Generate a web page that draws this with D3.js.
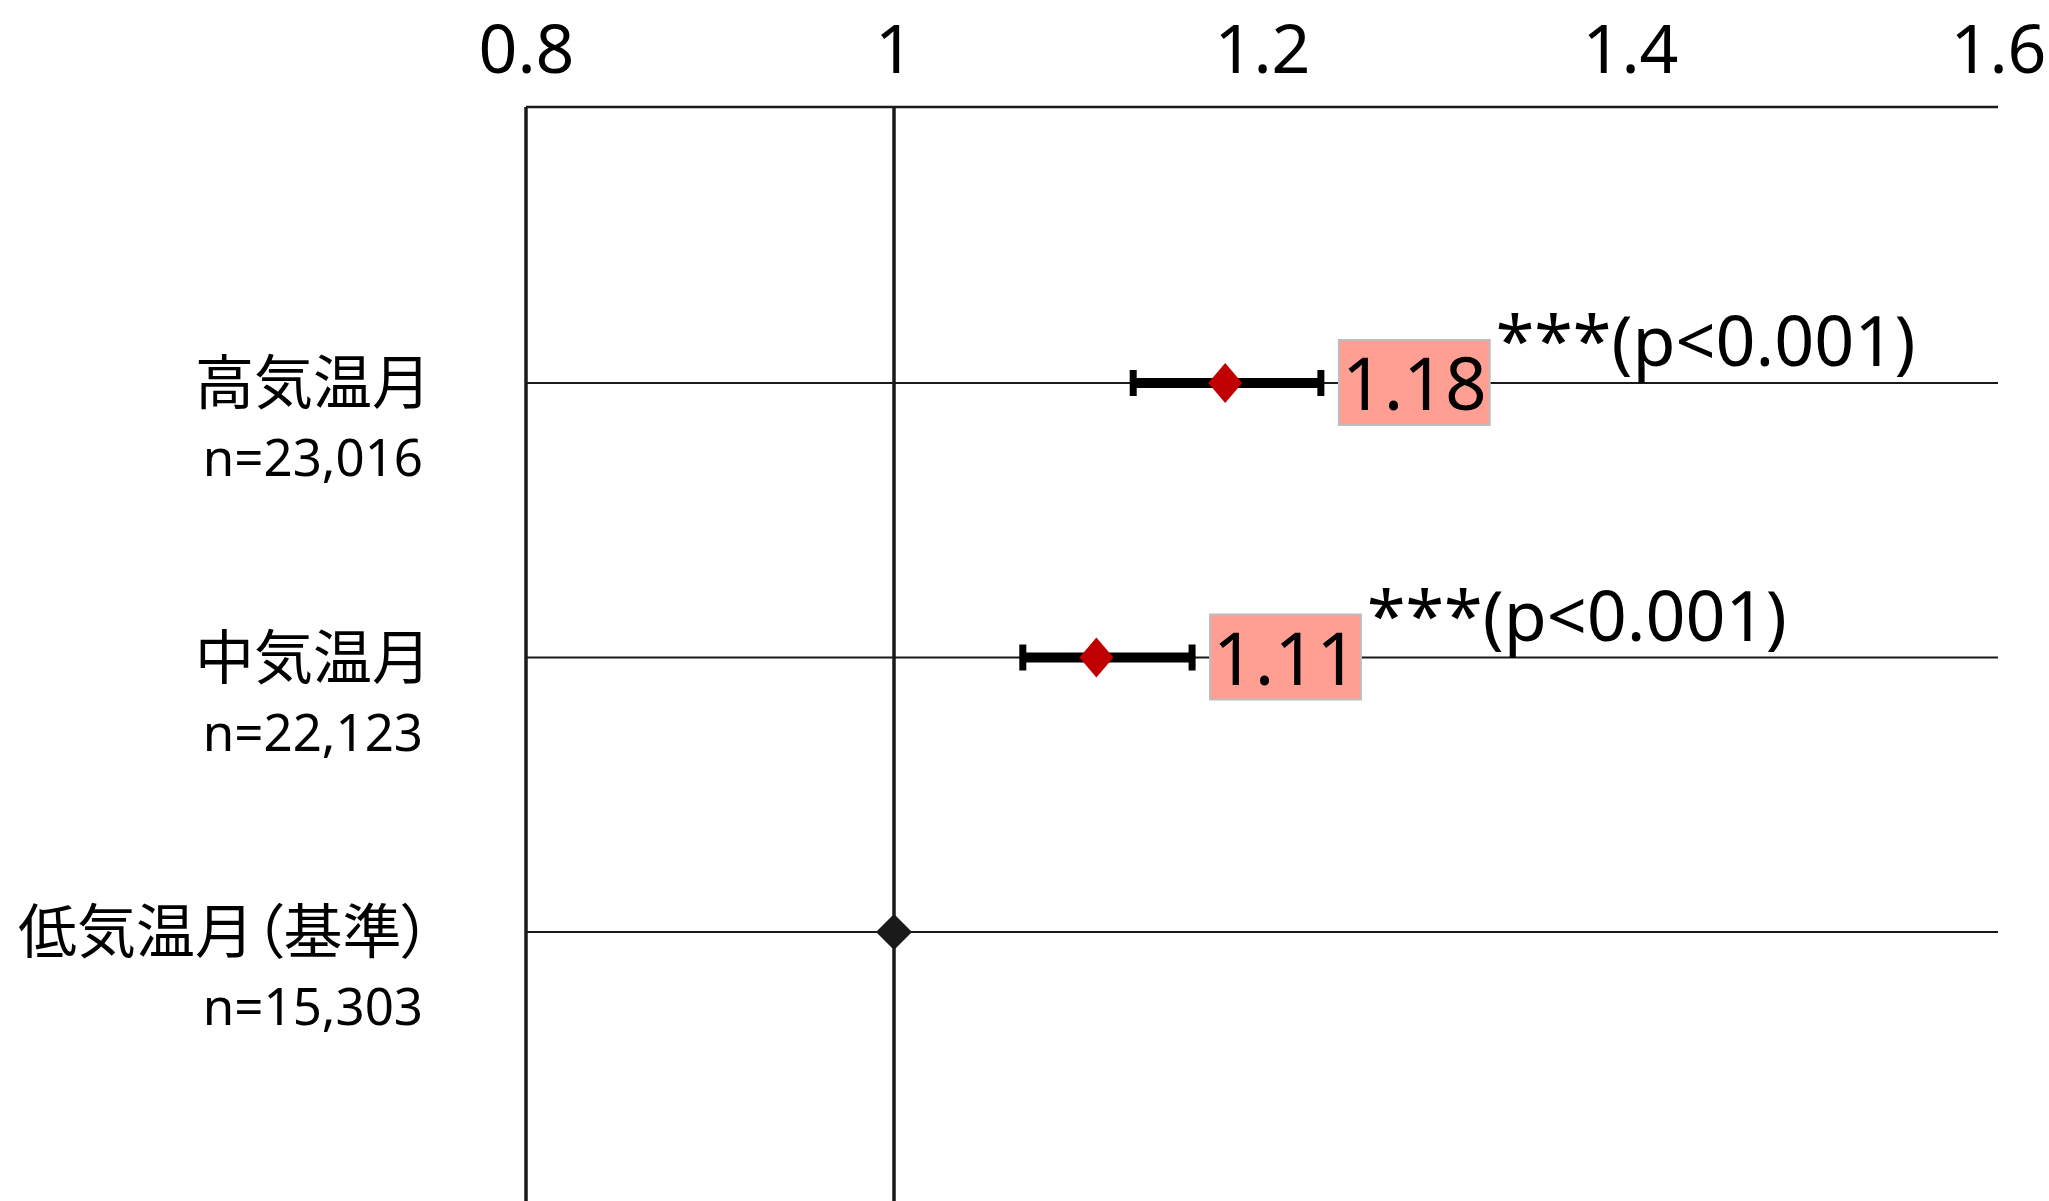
<!DOCTYPE html>
<html><head><meta charset="utf-8">
<script src="https://cdn.jsdelivr.net/npm/d3@7"></script>
<style>
html,body{margin:0;padding:0;background:#fff;}
svg{display:block;}
text{font-family:"Noto Sans","Noto Sans CJK JP",sans-serif;fill:#000;}
.cjk{font-family:"Noto Sans CJK JP",sans-serif;font-feature-settings:"palt";}
</style></head>
<body>
<svg id="c" width="2049" height="1201"></svg>
<script>
const categories = ["高気温月","中気温月","低気温月（基準）"];
const counts = ["n=23,016","n=22,123","n=15,303"];
const oddsRatio = [1.18, 1.11, 1.00];
const ciLow = [1.130, 1.070, null];
const ciHigh = [1.232, 1.162, null];
const valueLabels = ["1.18","1.11",null];
const sigLabels = ["***(p<0.001)","***(p<0.001)",null];
const xTicks = [0.8, 1.0, 1.2, 1.4, 1.6];
const xTickLabels = ["0.8","1","1.2","1.4","1.6"];

(function(){
const svg = d3.select("#c");
const plotTop = 107, plotBottom = 1201;
const x = d3.scaleLinear().domain([0.8,1.6]).range([526,1998]);
const y = d3.scalePoint().domain(categories).range([383,932]);

const ax = svg.append("g").attr("transform",`translate(0,${plotTop})`)
  .call(d3.axisTop(x).tickValues(xTicks).tickSize(0).tickPadding(34)
    .tickFormat((d,i)=>xTickLabels[i]));
ax.select(".domain").remove();
ax.selectAll("text").attr("font-size",68).attr("font-family",'"Noto Sans",sans-serif').attr("fill","#000");

const ink = "#1a1a1a";
svg.append("line").attr("x1",x(0.8)).attr("x2",x(1.6)).attr("y1",plotTop).attr("y2",plotTop)
  .attr("stroke",ink).attr("stroke-width",2.5);
svg.selectAll(".row").data(categories).join("line")
  .attr("x1",x(0.8)).attr("x2",x(1.6)).attr("y1",d=>y(d)).attr("y2",d=>y(d))
  .attr("stroke",ink).attr("stroke-width",2.2);
[0.8,1.0].forEach(v=>{
  svg.append("line").attr("x1",x(v)).attr("x2",x(v)).attr("y1",plotTop).attr("y2",plotBottom)
    .attr("stroke",ink).attr("stroke-width",3.5);
});

categories.forEach((c,i)=>{
  svg.append("text").attr("class","cjk").attr("x",431).attr("y",y(c)).attr("dy","0.36em")
    .attr("text-anchor","end").attr("font-size",59).text(c);
  svg.append("text").attr("x",423).attr("y",y(c)+93)
    .attr("text-anchor","end").attr("font-size",51).text(counts[i]);
});

categories.forEach((c,i)=>{
  const yy = y(c);
  if(ciLow[i]!=null){
    svg.append("line").attr("x1",x(ciLow[i])).attr("x2",x(ciHigh[i])).attr("y1",yy).attr("y2",yy)
      .attr("stroke","#000").attr("stroke-width",10);
    [ciLow[i],ciHigh[i]].forEach(v=>{
      svg.append("line").attr("x1",x(v)).attr("x2",x(v)).attr("y1",yy-13).attr("y2",yy+13)
        .attr("stroke","#000").attr("stroke-width",7);
    });
    const px = x(oddsRatio[i]);
    svg.append("path").attr("d",`M${px},${yy-20}L${px+17},${yy}L${px},${yy+20}L${px-17},${yy}Z`)
      .attr("fill","#c00000");
    const bx = x(ciHigh[i])+18, bh = 85;
    const rect = svg.append("rect");
    const t = svg.append("text").attr("y",yy+27).attr("text-anchor","middle")
      .attr("font-size",73).text(valueLabels[i]);
    const tw = t.node().getComputedTextLength();
    const bw = tw + 6;
    t.attr("x",bx+bw/2);
    rect.attr("x",bx).attr("y",yy-43).attr("width",bw).attr("height",bh)
      .attr("fill","#ff9f94").attr("stroke","#bdbdbd").attr("stroke-width",2);
    svg.append("text").attr("x",bx+bw+6).attr("y",yy-17)
      .attr("font-size",70).text(sigLabels[i]);
  } else {
    const px = x(oddsRatio[i]);
    svg.append("path").attr("d",`M${px},${yy-18}L${px+18},${yy}L${px},${yy+18}L${px-18},${yy}Z`)
      .attr("fill",ink);
  }
});
})();
</script>
</body></html>
